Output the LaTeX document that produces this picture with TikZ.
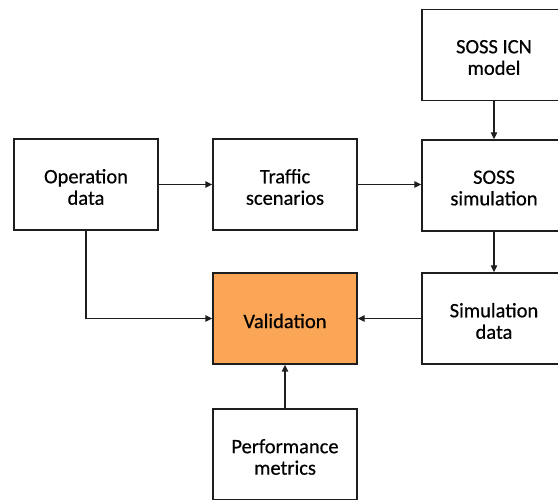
\documentclass[tikz,border=0pt]{standalone}
\usepackage{fontspec}
\setmainfont{Carlito}[FakeBold=0.5]
\usetikzlibrary{arrows.meta}
\definecolor{valorange}{RGB}{250,166,86}
\definecolor{edge}{RGB}{30,30,30}
\tikzset{
  box/.style={draw=edge, line width=1.4pt, minimum width=144pt, minimum height=91pt,
    inner sep=0pt},
  txt/.style={align=center, font=\fontsize{20.5pt}{21.5pt}\selectfont, text=black, yshift=-2.5pt},
  conn/.style={draw=edge, line width=1.4pt, -{Triangle[length=7pt,width=6.5pt]}}
}
\begin{document}
\begin{tikzpicture}[x=1pt,y=1pt]
\clip (0,0) rectangle (558,500);
\fill[white] (0,0) rectangle (558,500);
\node[box, label={[txt]center:{Operation\\data}}] (op) at (86,315.5) {};
\node[box, label={[txt]center:{Traffic\\scenarios}}] (tr) at (285,315.5) {};
\node[box, label={[txt]center:{SOSS ICN\\model}}] (icn) at (494,445) {};
\node[box, label={[txt]center:{SOSS\\simulation}}] (sim) at (494,314.5) {};
\node[box, label={[txt]center:{Simulation\\data}}] (sd) at (494,181.5) {};
\node[box, fill=valorange, label={[txt]center:{Validation}}] (val) at (285,181.5) {};
\node[box, label={[txt]center:{Performance\\metrics}}] (pm) at (285,45.5) {};
\draw[conn] (op) -- (tr);
\draw[conn] (tr) -- (tr -| sim.west);
\draw[conn] (icn) -- (sim);
\draw[conn] (sim) -- (sd);
\draw[conn] (sd) -- (val);
\draw[conn] (op.south) |- (val.west);
\draw[conn] (pm) -- (val);
\end{tikzpicture}
\end{document}
